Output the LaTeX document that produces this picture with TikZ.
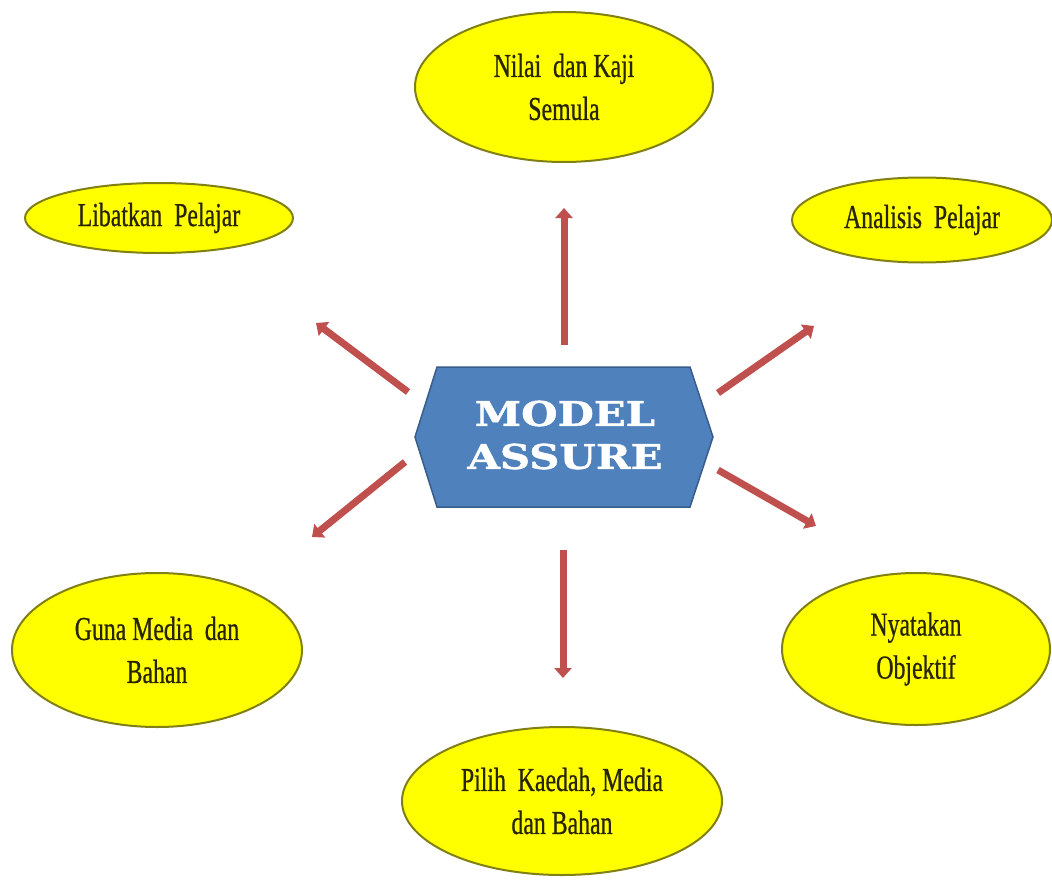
\documentclass[tikz,border=0pt]{standalone}
\usepackage{fontspec}
\setmainfont[FakeStretch=0.71,FakeBold=0.6]{Liberation Serif}
\newfontfamily\hexfont[FakeStretch=1.23,FakeBold=1.2]{DejaVu Serif}
\usetikzlibrary{shapes.geometric,arrows.meta}
\definecolor{ellfill}{RGB}{255,255,0}
\definecolor{elldraw}{RGB}{128,128,20}
\definecolor{elltext}{RGB}{40,36,0}
\definecolor{hexfill}{RGB}{79,129,189}
\definecolor{hexdraw}{RGB}{56,93,138}
\definecolor{arrowred}{RGB}{192,80,77}
\tikzset{
  stepell/.style={ellipse, draw=elldraw, fill=ellfill, line width=2pt, inner sep=0pt,
    align=center, text=elltext, font=\fontsize{33.5}{43}\selectfont},
  hexshape/.style={draw=hexdraw, fill=hexfill, line width=1.5pt, line join=miter},
  hextext/.style={text=white, align=center, inner sep=0pt, font=\hexfont\bfseries\fontsize{34}{43}\selectfont},
  redarrow/.style={draw=arrowred, line width=7pt, -{Triangle[width=17pt,length=10pt]}}
}
\begin{document}
\begin{tikzpicture}[x=1pt,y=-1pt]
\useasboundingbox[fill=white] (0,0) rectangle (1052,880);
% ellipses
\node[stepell, minimum width=298pt, minimum height=150pt] (nilai) at (564,87) {Nilai\ \ dan Kaji\\Semula};
\node[stepell, minimum width=268pt, minimum height=70pt] (libat) at (159,218) {Libatkan\ \ Pelajar};
\node[stepell, minimum width=260pt, minimum height=85pt] (anal) at (922,220) {Analisis\ \ Pelajar};
\node[stepell, minimum width=290pt, minimum height=154pt] (guna) at (157,650) {Guna Media\ \ dan\\Bahan};
\node[stepell, minimum width=268pt, minimum height=152pt] (nyata) at (916,649) {Nyatakan\\Objektif};
\node[stepell, minimum width=320pt, minimum height=148pt] (pilih) at (562,801) {Pilih\ \ Kaedah, Media\\dan Bahan};
% hexagon
\coordinate (h1) at (437,367);
\coordinate (h2) at (690,367);
\coordinate (h3) at (713,437);
\coordinate (h4) at (690,507);
\coordinate (h5) at (437,507);
\coordinate (h6) at (415,437);
\draw[hexshape] (h1) -- (h2) -- (h3) -- (h4) -- (h5) -- (h6) -- cycle;
\node[hextext] (model) at (565,435) {MODEL\\ASSURE};
% arrows
\coordinate (upS) at (564,345);   \coordinate (upE) at (564,208);
\coordinate (dnS) at (563,550);   \coordinate (dnE) at (563,678);
\coordinate (ulS) at (408,392);   \coordinate (ulE) at (316,323);
\coordinate (llS) at (405,462);   \coordinate (llE) at (312,537);
\coordinate (urS) at (718,393);   \coordinate (urE) at (814,326);
\coordinate (lrS) at (718,470);   \coordinate (lrE) at (816,526);
\draw[redarrow] (upS) -- (upE);
\draw[redarrow] (dnS) -- (dnE);
\draw[redarrow] (ulS) -- (ulE);
\draw[redarrow] (llS) -- (llE);
\draw[redarrow] (urS) -- (urE);
\draw[redarrow] (lrS) -- (lrE);
\end{tikzpicture}
\end{document}
